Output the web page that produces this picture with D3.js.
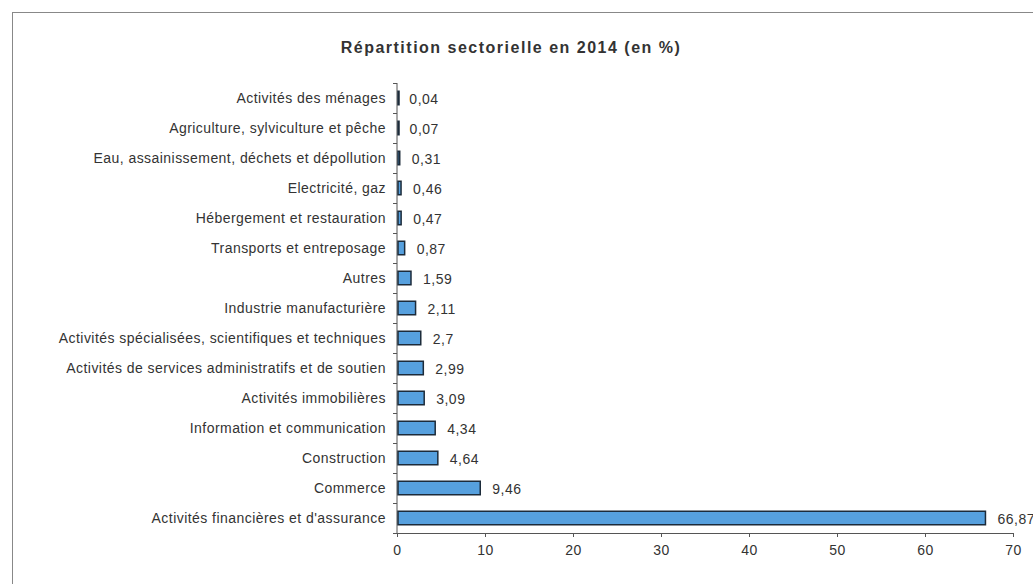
<!DOCTYPE html>
<html>
<head>
<meta charset="utf-8">
<script src="https://cdn.jsdelivr.net/npm/d3@7"></script>
<style>
  body { margin: 0; background: #fff; }
  text { font-family: "Liberation Sans", Arial, sans-serif; fill: #333; }
</style>
</head>
<body>
<svg width="1033" height="584"></svg>
<script>
// Data, top to bottom
let sectors = ["Activités des ménages", "Agriculture, sylviculture et pêche",
  "Eau, assainissement, déchets et dépollution", "Electricité, gaz",
  "Hébergement et restauration", "Transports et entreposage", "Autres",
  "Industrie manufacturière", "Activités spécialisées, scientifiques et techniques",
  "Activités de services administratifs et de soutien", "Activités immobilières",
  "Information et communication", "Construction", "Commerce",
  "Activités financières et d'assurance"];
let shares = [0.04, 0.07, 0.31, 0.46, 0.47, 0.87, 1.59, 2.11, 2.7, 2.99, 3.09, 4.34, 4.64, 9.46, 66.87];
let xTicks = [0, 10, 20, 30, 40, 50, 60, 70];

let svg = d3.select("svg");

// frame
svg.append("rect")
  .attr("x", 12.5).attr("y", 12.5)
  .attr("width", 1040).attr("height", 600)
  .style("fill", "none").style("stroke", "#888").style("stroke-width", 1);

svg.append("text")
  .attr("x", 511).attr("y", 53)
  .style("text-anchor", "middle")
  .style("font-size", "16px").style("font-weight", "bold")
  .style("letter-spacing", "1.5px")
  .text("Répartition sectorielle en 2014 (en %)");

let plotLeft = 397, plotTop = 83, w = 616, h = 450;
let g = svg.append("g").attr("transform", `translate(${plotLeft},${plotTop})`);

let x = d3.scaleLinear().domain([0, 70]).range([0, w]);
let y = d3.scaleBand().domain(sectors).range([0, h]).paddingInner(0.55).paddingOuter(0.275);

// x axis
let xAxis = d3.axisBottom(x).tickValues(xTicks).tickSize(4).tickFormat(d3.format("d"));
g.append("g")
  .attr("transform", `translate(0,${h})`)
  .call(xAxis)
  .call(a => a.select(".domain").attr("stroke", "#555"))
  .call(a => a.selectAll(".tick line").attr("stroke", "#555"))
  .call(a => a.selectAll("text").attr("dy", "1.05em")
    .style("font-size", "14px").style("letter-spacing", "0.5px")
    .style("font-family", "Liberation Sans, Arial, sans-serif").attr("fill", "#333"));

// y axis line and boundary ticks
g.append("line")
  .attr("x1", 0).attr("x2", 0).attr("y1", 0).attr("y2", h)
  .attr("stroke", "#555");
let step = y.step();
g.selectAll(".ytick")
  .data(d3.range(sectors.length + 1))
  .enter().append("line")
  .attr("class", "ytick")
  .attr("x1", -4).attr("x2", 0)
  .attr("y1", i => i * step + 0.5).attr("y2", i => i * step + 0.5)
  .attr("stroke", "#555");

// category labels
g.selectAll(".cat")
  .data(sectors)
  .enter().append("text")
  .attr("class", "cat")
  .attr("x", -11)
  .attr("y", d => y(d) + y.bandwidth() / 2)
  .attr("dy", "0.35em")
  .style("text-anchor", "end")
  .style("font-size", "14px")
  .style("letter-spacing", "0.45px")
  .text(d => d);

// bars
g.selectAll(".bar")
  .data(shares)
  .enter().append("rect")
  .attr("class", "bar")
  .attr("x", 1)
  .attr("y", (d, i) => y(sectors[i]))
  .attr("width", d => Math.max(x(d) - 1, 1))
  .attr("height", y.bandwidth())
  .style("fill", "#56a0de")
  .style("stroke", "#1c2b3a")
  .style("stroke-width", 1.5);

// values
g.selectAll(".val")
  .data(shares)
  .enter().append("text")
  .attr("class", "val")
  .attr("x", d => x(d) + 12)
  .attr("y", (d, i) => y(sectors[i]) + y.bandwidth() / 2)
  .attr("dy", "0.45em")
  .style("font-size", "14px")
  .style("letter-spacing", "0.5px")
  .text(d => String(d).replace(".", ","));
</script>
</body>
</html>
